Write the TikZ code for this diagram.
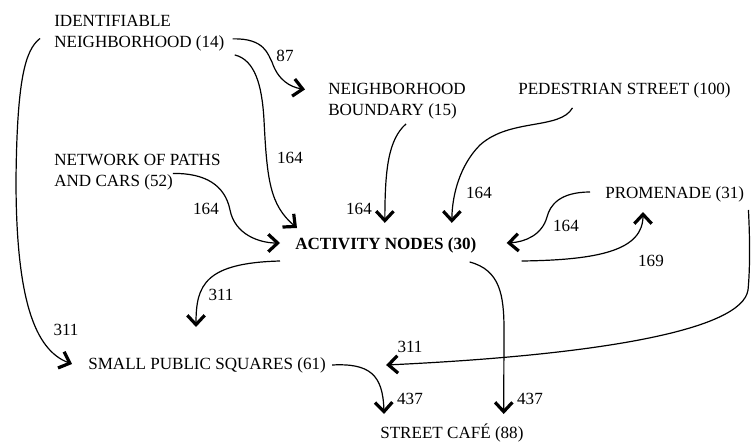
\documentclass[tikz,border=0pt]{standalone}
\usepackage{fontspec}
\setmainfont{Liberation Serif}
\usetikzlibrary{arrows.meta}
\begin{document}
\begin{tikzpicture}[x=0.75pt,y=-0.75pt,
  ttl/.style={inner sep=0pt, anchor=base west, align=left, font=\fontsize{12.8}{15.75}\selectfont},
  lbl/.style={inner sep=0pt, font=\fontsize{12.8}{15.75}\selectfont},
  edge/.style={line width=0.9pt, -{Straight Barb[length=7pt,width=13pt,line width=2.4pt]}}]
\useasboundingbox (0,0) rectangle (752,442);
% nodes
\node[ttl] (id) at (54,48) {IDENTIFIABLE\\NEIGHBORHOOD (14)};
\node[ttl] (nb) at (328,116) {NEIGHBORHOOD\\BOUNDARY (15)};
\node[ttl] (ps) at (518,95) {PEDESTRIAN STREET (100)};
\node[ttl] (np) at (54,186) {NETWORK OF PATHS\\AND CARS (52)};
\node[ttl, font=\fontsize{12.8}{15.75}\selectfont\bfseries] (act) at (295,249) {ACTIVITY NODES (30)};
\node[ttl] (pr) at (605,198) {PROMENADE (31)};
\node[ttl] (sq) at (88,369) {SMALL PUBLIC SQUARES (61)};
\node[ttl] (sc) at (380,438) {STREET CAFÉ (88)};
% edges
\draw[edge] ([shift={(8,-13)}]id.south east) .. controls (265,38) and (268,55) .. (272,62)
  .. controls (278,80) and (290,87) .. ([shift={(-23,6)}]nb.north west);
\draw[edge] ([shift={(10,3)}]id.south east) .. controls (255,60) and (262,85) .. (264,120)
  .. controls (267,180) and (270,205) .. ([shift={(2,-21)}]act.base west);
\draw[edge] ([shift={(-14,23)}]id.north west) .. controls (25,50) and (17,80) .. (16,180)
  .. controls (16,300) and (35,350) .. ([shift={(-16,-5)}]sq.base west);
\draw[edge] ([shift={(-48,20)}]np.north east) .. controls (205,173) and (225,185) .. (230,210)
  .. controls (235,235) and (260,243) .. ([shift={(-15,-6)}]act.base west);
\draw[edge] ([shift={(9,4)}]nb.south) .. controls (388,140) and (385,170) .. ([shift={(-1,-14)}]act.north);
\draw[edge] ([shift={(-52,9)}]ps.south) .. controls (560,130) and (510,118) .. (480,145)
  .. controls (460,165) and (452,195) .. ([shift={(66,-14)}]act.north);
\draw[edge] ([shift={(-15,-6)}]pr.base west) .. controls (560,192) and (550,205) .. (547,217)
  .. controls (542,235) and (525,242) .. ([shift={(30,-6)}]act.base east);
\draw[edge] ([shift={(45,12)}]act.base east) .. controls (600,260) and (643,250) .. ([shift={(38,14)}]pr.base west);
\draw[edge] ([shift={(-15,12)}]act.base west) .. controls (205,263) and (196,285) .. ([shift={(108,-42)}]sq.base west);
\draw[edge] ([shift={(4,12)}]pr.base east) .. controls (750,240) and (750,270) .. (748,290)
  .. controls (742,330) and (600,355) .. ([shift={(60,-4)}]sq.base east);
\draw[edge] ([shift={(6,-4)}]sq.base east) .. controls (370,363) and (383,375) .. ([shift={(4,-24)}]sc.base west);
\draw[edge] ([shift={(-7,13)}]act.base east) .. controls (500,270) and (504,295) .. (504,330)
  -- ([shift={(-20,-24)}]sc.base east);
% labels
\node[lbl] (l1) at (285,56) {87};
\node[lbl] (l2) at (290,158) {164};
\node[lbl] (l3) at (66,330) {311};
\node[lbl] (l4) at (206,209) {164};
\node[lbl] (l5) at (359,209) {164};
\node[lbl] (l6) at (479,193) {164};
\node[lbl] (l7) at (566,226) {164};
\node[lbl] (l8) at (651,261) {169};
\node[lbl] (l9) at (221,295) {311};
\node[lbl] (l10) at (410,347) {311};
\node[lbl] (l11) at (410,399) {437};
\node[lbl] (l12) at (530,399) {437};
\end{tikzpicture}
\end{document}
